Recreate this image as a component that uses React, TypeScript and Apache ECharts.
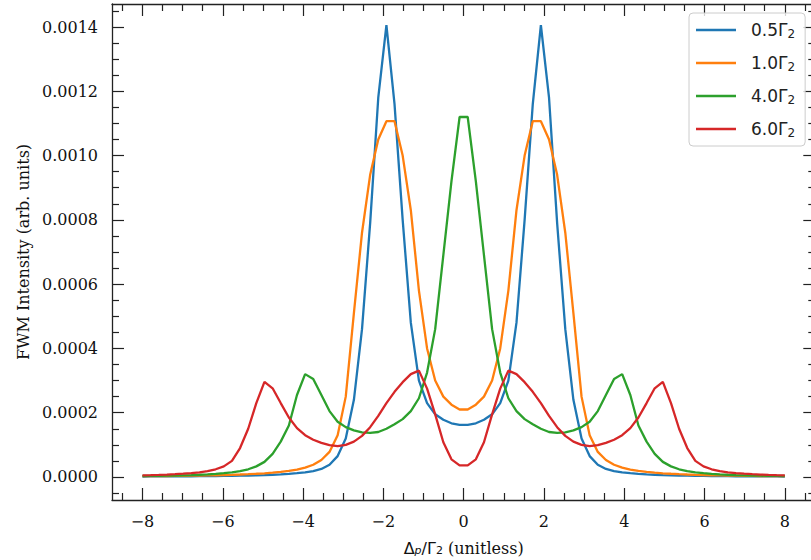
import React, { useEffect, useRef } from "react";
import * as echarts from "echarts";

// Sample positions (linspace -8..8, 80 points)
const X = [
  -8.0, -7.797, -7.595, -7.392, -7.19, -6.987, -6.785, -6.582, -6.38, -6.177,
  -5.975, -5.772, -5.57, -5.367, -5.165, -4.962, -4.759, -4.557, -4.354, -4.152,
  -3.949, -3.747, -3.544, -3.342, -3.139, -2.937, -2.734, -2.532, -2.329, -2.127,
  -1.924, -1.722, -1.519, -1.316, -1.114, -0.911, -0.709, -0.506, -0.304, -0.101,
  0.101, 0.304, 0.506, 0.709, 0.911, 1.114, 1.316, 1.519, 1.722, 1.924,
  2.127, 2.329, 2.532, 2.734, 2.937, 3.139, 3.342, 3.544, 3.747, 3.949,
  4.152, 4.354, 4.557, 4.759, 4.962, 5.165, 5.367, 5.57, 5.772, 5.975,
  6.177, 6.38, 6.582, 6.785, 6.987, 7.19, 7.392, 7.595, 7.797, 8.0,
];

const G05 = [
  1.5e-6, 1.6e-6, 1.7e-6, 1.8e-6, 2.0e-6, 2.1e-6, 2.3e-6, 2.5e-6, 2.7e-6, 3.0e-6,
  3.3e-6, 3.7e-6, 4.1e-6, 4.6e-6, 5.2e-6, 6.0e-6, 7.0e-6, 8.2e-6, 9.8e-6, 1.2e-5,
  1.45e-5, 1.85e-5, 2.5e-5, 3.8e-5, 6.5e-5, 1.2e-4, 2.4e-4, 4.6e-4, 7.9e-4, 1.18e-3,
  1.406e-3, 1.16e-3, 8.0e-4, 4.8e-4, 3.0e-4, 2.3e-4, 1.95e-4, 1.78e-4, 1.67e-4, 1.62e-4,
  1.62e-4, 1.67e-4, 1.78e-4, 1.95e-4, 2.3e-4, 3.0e-4, 4.8e-4, 8.0e-4, 1.16e-3, 1.406e-3,
  1.18e-3, 7.9e-4, 4.6e-4, 2.4e-4, 1.2e-4, 6.5e-5, 3.8e-5, 2.5e-5, 1.85e-5, 1.45e-5,
  1.2e-5, 9.8e-6, 8.2e-6, 7.0e-6, 6.0e-6, 5.2e-6, 4.6e-6, 4.1e-6, 3.7e-6, 3.3e-6,
  3.0e-6, 2.7e-6, 2.5e-6, 2.3e-6, 2.1e-6, 2.0e-6, 1.8e-6, 1.7e-6, 1.6e-6, 1.5e-6,
];

const G10 = [
  2.5e-6, 2.7e-6, 2.9e-6, 3.1e-6, 3.4e-6, 3.7e-6, 4.0e-6, 4.4e-6, 4.9e-6, 5.4e-6,
  6.0e-6, 6.8e-6, 7.7e-6, 8.7e-6, 1.0e-5, 1.15e-5, 1.35e-5, 1.6e-5, 1.9e-5, 2.3e-5,
  2.9e-5, 3.8e-5, 5.3e-5, 7.8e-5, 1.3e-4, 2.5e-4, 5.1e-4, 7.6e-4, 9.4e-4, 1.05e-3,
  1.107e-3, 1.107e-3, 1.0e-3, 8.3e-4, 5.8e-4, 4.0e-4, 3.0e-4, 2.5e-4, 2.25e-4, 2.1e-4,
  2.1e-4, 2.25e-4, 2.5e-4, 3.0e-4, 4.0e-4, 5.8e-4, 8.3e-4, 1.0e-3, 1.107e-3, 1.107e-3,
  1.05e-3, 9.4e-4, 7.6e-4, 5.1e-4, 2.5e-4, 1.3e-4, 7.8e-5, 5.3e-5, 3.8e-5, 2.9e-5,
  2.3e-5, 1.9e-5, 1.6e-5, 1.35e-5, 1.15e-5, 1.0e-5, 8.7e-6, 7.7e-6, 6.8e-6, 6.0e-6,
  5.4e-6, 4.9e-6, 4.4e-6, 4.0e-6, 3.7e-6, 3.4e-6, 3.1e-6, 2.9e-6, 2.7e-6, 2.5e-6,
];

const G40 = [
  3.0e-6, 3.3e-6, 3.7e-6, 4.1e-6, 4.6e-6, 5.2e-6, 6.0e-6, 7.0e-6, 8.2e-6, 9.7e-6,
  1.17e-5, 1.45e-5, 1.85e-5, 2.4e-5, 3.3e-5, 4.7e-5, 7.2e-5, 1.1e-4, 1.6e-4, 2.55e-4,
  3.2e-4, 3.05e-4, 2.55e-4, 2.05e-4, 1.72e-4, 1.55e-4, 1.45e-4, 1.39e-4, 1.37e-4, 1.4e-4,
  1.5e-4, 1.64e-4, 1.8e-4, 2.05e-4, 2.45e-4, 3.25e-4, 4.6e-4, 6.9e-4, 9.2e-4, 1.12e-3,
  1.12e-3, 9.2e-4, 6.9e-4, 4.6e-4, 3.25e-4, 2.45e-4, 2.05e-4, 1.8e-4, 1.64e-4, 1.5e-4,
  1.4e-4, 1.37e-4, 1.39e-4, 1.45e-4, 1.55e-4, 1.72e-4, 2.05e-4, 2.55e-4, 3.05e-4, 3.2e-4,
  2.55e-4, 1.6e-4, 1.1e-4, 7.2e-5, 4.7e-5, 3.3e-5, 2.4e-5, 1.85e-5, 1.45e-5, 1.17e-5,
  9.7e-6, 8.2e-6, 7.0e-6, 6.0e-6, 5.2e-6, 4.6e-6, 4.1e-6, 3.7e-6, 3.3e-6, 3.0e-6,
];

const G60 = [
  5.0e-6, 5.7e-6, 6.5e-6, 7.5e-6, 8.7e-6, 1.02e-5, 1.2e-5, 1.45e-5, 1.8e-5, 2.4e-5,
  3.3e-5, 5.0e-5, 9.0e-5, 1.5e-4, 2.3e-4, 2.96e-4, 2.76e-4, 2.3e-4, 1.85e-4, 1.52e-4,
  1.3e-4, 1.16e-4, 1.06e-4, 9.9e-5, 9.6e-5, 1.0e-4, 1.1e-4, 1.28e-4, 1.55e-4, 1.9e-4,
  2.3e-4, 2.65e-4, 2.95e-4, 3.2e-4, 3.31e-4, 2.75e-4, 1.95e-4, 1.08e-4, 5.5e-5, 3.6e-5,
  3.6e-5, 5.5e-5, 1.08e-4, 1.95e-4, 2.75e-4, 3.31e-4, 3.2e-4, 2.95e-4, 2.65e-4, 2.3e-4,
  1.9e-4, 1.55e-4, 1.28e-4, 1.1e-4, 1.0e-4, 9.6e-5, 9.9e-5, 1.06e-4, 1.16e-4, 1.3e-4,
  1.52e-4, 1.85e-4, 2.3e-4, 2.76e-4, 2.96e-4, 2.3e-4, 1.5e-4, 9.0e-5, 5.0e-5, 3.3e-5,
  2.4e-5, 1.8e-5, 1.45e-5, 1.2e-5, 1.02e-5, 8.7e-6, 7.5e-6, 6.5e-6, 5.7e-6, 5.0e-6,
];

const SERIES_NAMES = ["0.5Γ2", "1.0Γ2", "4.0Γ2", "6.0Γ2"];
const COLORS = ["#1f77b4", "#ff7f0e", "#2ca02c", "#d62728"];

const X_MAJOR = [-8, -6, -4, -2, 0, 2, 4, 6, 8];
const X_MINOR = [
  -8.5, -7.5, -7, -6.5, -5.5, -5, -4.5, -3.5, -3, -2.5, -1.5, -1, -0.5,
  0.5, 1, 1.5, 2.5, 3, 3.5, 4.5, 5, 5.5, 6.5, 7, 7.5, 8.5,
];
const Y_MAJOR = [0, 0.0002, 0.0004, 0.0006, 0.0008, 0.001, 0.0012, 0.0014];
const Y_MINOR = [
  -0.00005, 0.00005, 0.0001, 0.00015, 0.00025, 0.0003, 0.00035, 0.00045, 0.0005,
  0.00055, 0.00065, 0.0007, 0.00075, 0.00085, 0.0009, 0.00095, 0.00105, 0.0011,
  0.00115, 0.00125, 0.0013, 0.00135, 0.00145,
];

const X_MIN = -8.76;
const X_MAX = 8.76;
const Y_MIN = -0.0000716;
const Y_MAX = 0.0014716;

const AXIS_COLOR = "#222";
const MAJOR_LEN = 12;
const MINOR_LEN = 7;

function fmtX(v: number) {
  return v < 0 ? "\u2212" + Math.abs(v) : String(v);
}

function xAxisDef(pos: string, ticks: number[], len: number, line: boolean, labels: boolean, name?: boolean): any {
  const a: any = {
    type: "value",
    position: pos,
    min: X_MIN,
    max: X_MAX,
    splitLine: { show: false },
    axisLine: { show: line, onZero: false, lineStyle: { color: AXIS_COLOR, width: 1.3 } },
    axisTick: { show: true, inside: true, length: len, customValues: ticks, lineStyle: { color: AXIS_COLOR, width: 1.2 } },
    axisLabel: labels
      ? {
          show: true,
          customValues: ticks,
          formatter: fmtX,
          margin: 13,
          fontFamily: "DejaVu Serif",
          fontSize: 16,
          color: "#111",
        }
      : { show: false },
  };
  if (name) {
    a.name = "{m|Δ}{si|p}{m|/Γ}{sb|2} (unitless)";
    a.nameLocation = "middle";
    a.nameGap = 40;
    a.nameTextStyle = {
      fontFamily: "DejaVu Serif",
      fontSize: 16,
      color: "#111",
      rich: {
        m: { fontFamily: "DejaVu Sans", fontSize: 16, color: "#111" },
        si: { fontFamily: "DejaVu Sans", fontStyle: "italic", fontSize: 11, color: "#111", verticalAlign: "bottom", lineHeight: 12 },
        sb: { fontFamily: "DejaVu Sans", fontSize: 11, color: "#111", verticalAlign: "bottom", lineHeight: 12 },
      },
    };
  }
  return a;
}

function yAxisDef(pos: string, ticks: number[], len: number, line: boolean, labels: boolean, name?: boolean): any {
  const a: any = {
    type: "value",
    position: pos,
    min: Y_MIN,
    max: Y_MAX,
    splitLine: { show: false },
    axisLine: { show: line, onZero: false, lineStyle: { color: AXIS_COLOR, width: 1.3 } },
    axisTick: { show: true, inside: true, length: len, customValues: ticks, lineStyle: { color: AXIS_COLOR, width: 1.2 } },
    axisLabel: labels
      ? {
          show: true,
          customValues: ticks,
          formatter: (v: number) => v.toFixed(4),
          margin: 14,
          fontFamily: "DejaVu Serif",
          fontSize: 16,
          color: "#111",
        }
      : { show: false },
  };
  if (name) {
    a.name = "FWM Intensity (arb. units)";
    a.nameLocation = "middle";
    a.nameGap = 79;
    a.nameTextStyle = { fontFamily: "DejaVu Serif", fontSize: 16, color: "#111" };
  }
  return a;
}

export default function App() {
  const ref = useRef<HTMLDivElement>(null);

  useEffect(() => {
    if (!ref.current) return;
    const chart = echarts.init(ref.current, undefined, { renderer: "svg" });
    const all = [G05, G10, G40, G60];
    const series = all.map((ys, i) => ({
      name: SERIES_NAMES[i],
      type: "line",
      xAxisIndex: 0,
      yAxisIndex: 0,
      data: X.map((x, j) => [x, ys[j]]),
      showSymbol: false,
      symbol: "none",
      lineStyle: { width: 2.3, color: COLORS[i] },
      itemStyle: { color: COLORS[i] },
      z: 2 + i,
    }));

    chart.setOption({
      animation: false,
      backgroundColor: "#ffffff",
      grid: { left: 112, top: 4, width: 703.3, height: 496, containLabel: false, outerBoundsMode: "none" },
      xAxis: [
        xAxisDef("bottom", X_MAJOR, MAJOR_LEN, true, true, true),
        xAxisDef("bottom", X_MINOR, MINOR_LEN, false, false),
        xAxisDef("top", X_MAJOR, MAJOR_LEN, true, false),
        xAxisDef("top", X_MINOR, MINOR_LEN, false, false),
      ],
      yAxis: [
        yAxisDef("left", Y_MAJOR, MAJOR_LEN, true, true, true),
        yAxisDef("left", Y_MINOR, MINOR_LEN, false, false),
        yAxisDef("right", Y_MAJOR, MAJOR_LEN, true, false),
        yAxisDef("right", Y_MINOR, MINOR_LEN, false, false),
      ],
      legend: {
        show: true,
        left: 689,
        top: 13,
        orient: "vertical",
        icon: "rect",
        itemWidth: 40,
        itemHeight: 2.5,
        itemGap: 13,
        padding: [7, 10, 7, 7],
        backgroundColor: "rgba(255,255,255,0.8)",
        borderColor: "#cccccc",
        borderWidth: 1,
        borderRadius: 4,
        data: SERIES_NAMES,
        formatter: (name: string) => name.replace(/2$/, "{sb|2}"),
        textStyle: {
          fontFamily: "DejaVu Sans",
          fontSize: 17,
          lineHeight: 20,
          color: "#222",
          padding: [0, 0, 0, 10],
          rich: {
            sb: { fontFamily: "DejaVu Sans", fontSize: 12, lineHeight: 12, verticalAlign: "bottom", color: "#222" },
          },
        },
      },
      series,
    });
    return () => chart.dispose();
  }, []);

  return (
    <div
      ref={ref}
      style={{ position: "fixed", left: 0, top: 0, width: 811, height: 560, overflow: "hidden", background: "#fff" }}
    />
  );
}
